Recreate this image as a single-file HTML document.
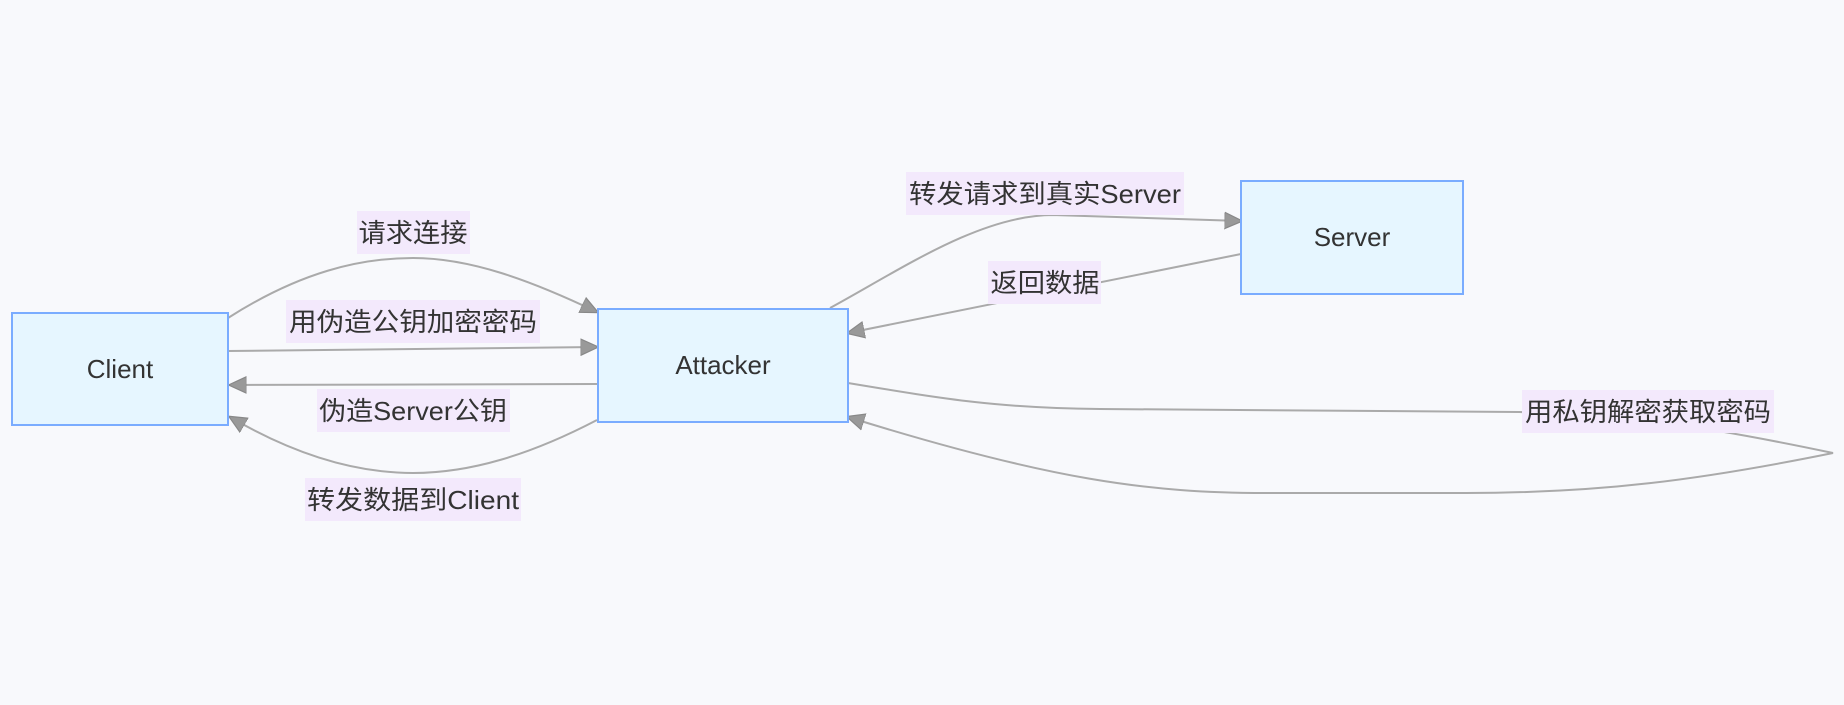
<!DOCTYPE html>
<html><head><meta charset="utf-8"><style>
html,body{margin:0;padding:0;background:#f8f9fc;}
svg{display:block}
text{font-family:"Liberation Sans","Noto Sans CJK SC",sans-serif;font-size:26px;fill:#333;}
</style></head><body>
<svg width="1844" height="705" viewBox="0 0 1844 705" xmlns="http://www.w3.org/2000/svg">
<defs>
<marker id="a" viewBox="0 0 12 12" refX="11" refY="6" markerWidth="18" markerHeight="18" markerUnits="userSpaceOnUse" orient="auto">
<path d="M0,0.5 L12,6 L0,11.5 z" fill="#999" stroke="#888" stroke-width="0.8"/>
</marker>
</defs>
<rect width="1844" height="705" fill="#f8f9fc"/>
<g fill="none" stroke="#aaa" stroke-width="2">
<path d="M228,318 C300,272 360,258 413,258 C470,258 530,280 597,312" marker-end="url(#a)"/>
<path d="M228,351 L597,347" marker-end="url(#a)"/>
<path d="M597,384 L230,385" marker-end="url(#a)"/>
<path d="M597,420 C530,455 470,473 413,473 C360,473 300,458 230,417" marker-end="url(#a)"/>
<path d="M830,308 C900,270 980,215 1053,215 L1241,221" marker-end="url(#a)"/>
<path d="M1241,254 L848,333" marker-end="url(#a)"/>
<path d="M848,383 C950,400 1000,408 1100,409 L1519,412 C1620,414 1700,425 1833,453 C1700,480 1600,493 1466,493 L1266,493 C1150,493 1050,480 848,417" marker-end="url(#a)"/>
</g>
<g fill="#e6f6ff" stroke="#7aacff" stroke-width="2">
<rect x="12" y="313" width="216" height="112"/>
<rect x="598" y="309" width="250" height="113"/>
<rect x="1241" y="181" width="222" height="113"/>
</g>
<text x="120" y="378" text-anchor="middle">Client</text>
<text x="723" y="374" text-anchor="middle">Attacker</text>
<text x="1352" y="246" text-anchor="middle">Server</text>
<g fill="#f3e9fc">
<rect x="357" y="211" width="113" height="43"/>
<rect x="286" y="300" width="254" height="43"/>
<rect x="317" y="389" width="193" height="43"/>
<rect x="305" y="478" width="216" height="43"/>
<rect x="906" y="172" width="278" height="43"/>
<rect x="988" y="261" width="113" height="43"/>
<rect x="1522" y="390" width="252" height="43"/>
</g>
<g text-anchor="middle">
<text x="413" y="242" textLength="109" lengthAdjust="spacingAndGlyphs">请求连接</text>
<text x="413" y="331" textLength="248" lengthAdjust="spacingAndGlyphs">用伪造公钥加密密码</text>
<text x="413" y="420" textLength="188" lengthAdjust="spacingAndGlyphs">伪造Server公钥</text>
<text x="413" y="509" textLength="212" lengthAdjust="spacingAndGlyphs">转发数据到Client</text>
<text x="1045" y="203" textLength="272" lengthAdjust="spacingAndGlyphs">转发请求到真实Server</text>
<text x="1045" y="292" textLength="109" lengthAdjust="spacingAndGlyphs">返回数据</text>
<text x="1648" y="421" textLength="246" lengthAdjust="spacingAndGlyphs">用私钥解密获取密码</text>
</g>
</svg>
</body></html>
